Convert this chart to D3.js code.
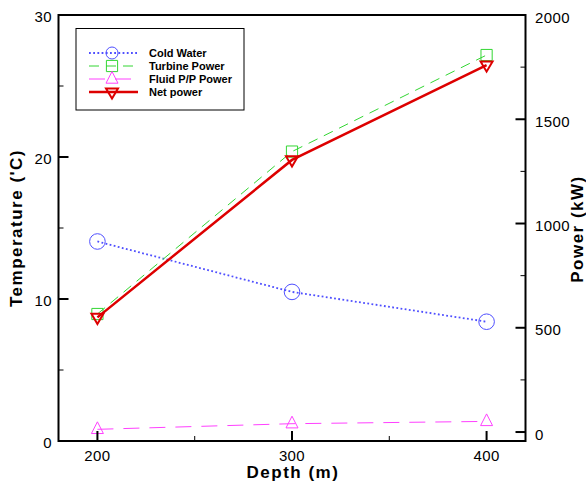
<!DOCTYPE html>
<html>
<head>
<meta charset="utf-8">
<script src="https://cdn.jsdelivr.net/npm/d3@7"></script>
<style>
  html, body { margin: 0; padding: 0; background: #fff; }
  svg { display: block; }
  svg text { font-family: "Liberation Sans", Arial, Helvetica, sans-serif; }
</style>
</head>
<body>
<svg id="chart" width="586" height="483"></svg>
<script>
// Depth (m) at which each configuration was evaluated
const depths = [200, 300, 400];
// Cold water temperature (°C), left axis
const coldWater = [14.05, 10.5, 8.4];
// Power figures (kW), right axis
const turbinePower = [566, 1345, 1808];
const fluidPumpPower = [13, 40, 51];
const netPower = [550, 1305, 1760];

const xTicks = [200, 300, 400];
const xMinorTicks = [250, 350];
const tempTicks = [0, 10, 20, 30];
const tempMinorTicks = [5, 15, 25];
const powerTicks = [0, 500, 1000, 1500, 2000];
const powerMinorTicks = [250, 750, 1250, 1750];

const seriesNames = ["Cold Water", "Turbine Power", "Fluid P/P Power", "Net power"];

const FONT = "'Liberation Sans', Arial, Helvetica, sans-serif";
const svg = d3.select("#chart").attr("font-family", FONT);
const plot = { left: 58.5, right: 525.5, top: 15, bottom: 441 };

const x = d3.scaleLinear().domain([180, 420]).range([plot.left, plot.right]);
const yT = d3.scaleLinear().domain([0, 30]).range([plot.bottom, plot.top]);
const yP = d3.scaleLinear().domain([-43, 2000]).range([plot.bottom, plot.top]);

// series styles
const styles = [
  { color: "#4f4fff", width: 1.8, dash: "1.8,2.4", symbol: "circle", size: 7.8, symWidth: 1 },
  { color: "#33d633", width: 1, dash: "10,7", symbol: "square", size: 5.6, symWidth: 1 },
  { color: "#ff40ff", width: 1, dash: "16,10", symbol: "up", size: 6, symWidth: 1 },
  { color: "#dd0000", width: 2.5, dash: null, symbol: "down", size: 6, symWidth: 2 }
];

function symbolPath(kind, s) {
  if (kind === "square") return `M${-s},${-s}H${s}V${s}H${-s}Z`;
  if (kind === "up") return `M0,${-s * 1.25}L${s},${s * 0.7}L${-s},${s * 0.7}Z`;
  if (kind === "down") return `M${-s},${-s * 0.6}L${s},${-s * 0.6}L0,${s * 1.1}Z`;
  return null;
}

function drawSymbol(g, kind, cx, cy, st, sizeOverride) {
  const s = sizeOverride || st.size;
  if (kind === "circle") {
    g.append("circle").attr("cx", cx).attr("cy", cy).attr("r", s)
      .attr("fill", "none").attr("stroke", st.color).attr("stroke-width", st.symWidth);
  } else {
    g.append("path").attr("d", symbolPath(kind, s))
      .attr("transform", `translate(${cx},${cy})`)
      .attr("fill", "none").attr("stroke", st.color).attr("stroke-width", st.symWidth)
      .attr("stroke-linejoin", "miter");
  }
}

// series data with their axis scale
const series = [
  { values: coldWater, y: yT },
  { values: turbinePower, y: yP },
  { values: fluidPumpPower, y: yP },
  { values: netPower, y: yP }
];

const gData = svg.append("g");
series.forEach((s, i) => {
  const st = styles[i];
  const line = d3.line().x((d, k) => x(depths[k])).y(d => s.y(d));
  gData.append("path").datum(s.values).attr("d", line)
    .attr("fill", "none").attr("stroke", st.color).attr("stroke-width", st.width)
    .attr("stroke-dasharray", st.dash);
  s.values.forEach((v, k) => drawSymbol(gData, st.symbol, x(depths[k]), s.y(v), st));
});

// frame
svg.append("rect")
  .attr("x", plot.left).attr("y", plot.top)
  .attr("width", plot.right - plot.left).attr("height", plot.bottom - plot.top)
  .attr("fill", "none").attr("stroke", "#000").attr("stroke-width", 2);

const axisG = svg.append("g").attr("stroke", "#000").attr("stroke-width", 2);
// bottom ticks (inward)
xTicks.forEach(t => axisG.append("line").attr("x1", x(t)).attr("x2", x(t))
  .attr("y1", plot.bottom).attr("y2", plot.bottom - 10));
xMinorTicks.forEach(t => axisG.append("line").attr("x1", x(t)).attr("x2", x(t))
  .attr("y1", plot.bottom).attr("y2", plot.bottom - 5).attr("stroke-width", 1));
// left ticks
tempTicks.forEach(t => axisG.append("line").attr("x1", plot.left).attr("x2", plot.left + 10)
  .attr("y1", yT(t)).attr("y2", yT(t)));
tempMinorTicks.forEach(t => axisG.append("line").attr("x1", plot.left).attr("x2", plot.left + 5)
  .attr("y1", yT(t)).attr("y2", yT(t)).attr("stroke-width", 1));
// right ticks
powerTicks.forEach(t => axisG.append("line").attr("x1", plot.right).attr("x2", plot.right - 10)
  .attr("y1", yP(t)).attr("y2", yP(t)));
powerMinorTicks.forEach(t => axisG.append("line").attr("x1", plot.right).attr("x2", plot.right - 5)
  .attr("y1", yP(t)).attr("y2", yP(t)).attr("stroke-width", 1));

// tick labels
const lbl = svg.append("g").attr("font-size", 15).attr("fill", "#000").attr("letter-spacing", 0.4);
xTicks.forEach(t => lbl.append("text").attr("x", x(t)).attr("y", 455)
  .attr("text-anchor", "middle").attr("dominant-baseline", "central").text(t));
tempTicks.forEach(t => lbl.append("text").attr("x", 52).attr("y", yT(t) + 1.5)
  .attr("text-anchor", "end").attr("dominant-baseline", "central").text(t));
powerTicks.forEach(t => lbl.append("text").attr("x", 535).attr("y", yP(t) + 2)
  .attr("text-anchor", "start").attr("dominant-baseline", "central").text(t));

// axis titles
const titles = svg.append("g").attr("font-size", 17).attr("font-weight", "bold")
  .attr("letter-spacing", 1.5).attr("text-anchor", "middle");
titles.append("text").attr("x", 293).attr("y", 478).text("Depth (m)");
titles.append("text").attr("transform", "translate(21.5,228) rotate(-90)").text("Temperature ('C)");
titles.append("text").attr("transform", "translate(583,229) rotate(-90)").text("Power (kW)");

// legend
const leg = svg.append("g");
leg.append("rect").attr("x", 76).attr("y", 28.5).attr("width", 168).attr("height", 81.5)
  .attr("fill", "#fff").attr("stroke", "#000").attr("stroke-width", 1);
const legRows = [53, 66, 79, 92];
seriesNames.forEach((name, i) => {
  const st = styles[i];
  const yy = legRows[i];
  leg.append("line").attr("x1", 89).attr("x2", 138).attr("y1", yy).attr("y2", yy)
    .attr("stroke", st.color).attr("stroke-width", st.width).attr("stroke-dasharray", st.dash);
  drawSymbol(leg, st.symbol, 112, yy, st, st.symbol === "circle" ? 6 : st.size);
  leg.append("text").attr("x", 149).attr("y", yy).attr("dominant-baseline", "central")
    .attr("font-size", 11).attr("font-weight", "bold").text(name);
});
</script>
</body>
</html>
